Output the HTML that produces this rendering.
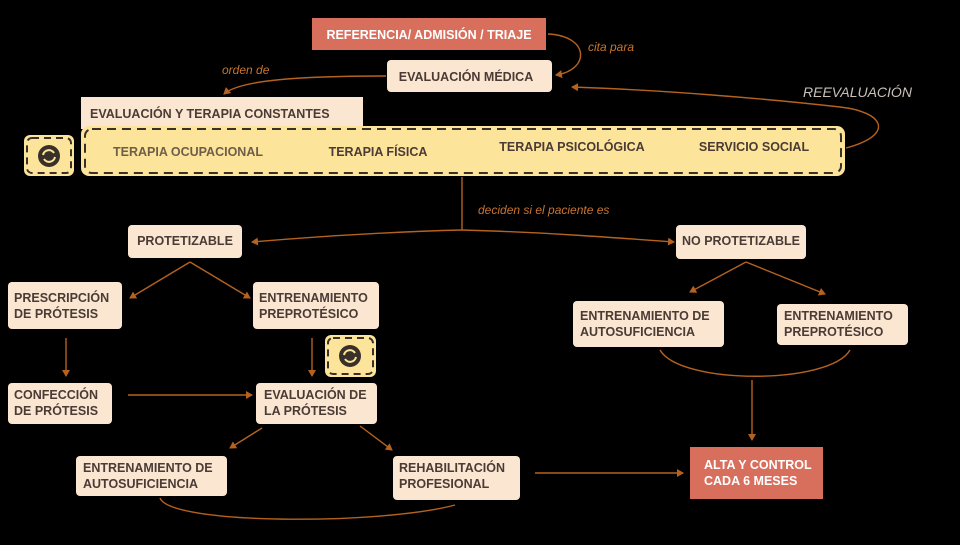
<!DOCTYPE html>
<html><head><meta charset="utf-8">
<style>
html,body{margin:0;padding:0;background:#000;}
body{width:960px;height:540px;overflow:hidden;font-family:"Liberation Sans",sans-serif;}
svg text{font-family:"Liberation Sans",sans-serif;}
.b{fill:#fbe6d2;}
.t{fill:#4a3b35;font-weight:bold;font-size:12.5px;}
.w{fill:#fff;font-weight:bold;font-size:12.5px;}
.ln{stroke:#b5621f;stroke-width:1.4;fill:none;}
.lbl{fill:#c8742e;font-style:italic;font-size:12px;}
</style></head>
<body>
<svg width="960" height="540" viewBox="0 0 960 540" xmlns="http://www.w3.org/2000/svg">
<defs>
<marker id="ar" markerWidth="8" markerHeight="8" refX="6" refY="4" orient="auto" markerUnits="userSpaceOnUse">
<path d="M0,0 L7,4 L0,8 z" fill="#b5621f"/></marker>
</defs>

<g>
<path class="ln" d="M548,34 C590,36 590,70 556,75" marker-end="url(#ar)"/>
<path class="ln" d="M386,76 C300,76 240,80 224,94" marker-end="url(#ar)"/>
<path class="ln" d="M846,148 C895,135 885,112 840,107 C760,98 660,90 572,87" marker-end="url(#ar)"/>
<path class="ln" d="M462,177 L462,230"/>
<path class="ln" d="M462,230 C380,232 300,238 252,242" marker-end="url(#ar)"/>
<path class="ln" d="M462,230 C540,232 620,238 674,242" marker-end="url(#ar)"/>
<path class="ln" d="M190,262 L130,298" marker-end="url(#ar)"/>
<path class="ln" d="M190,262 L250,298" marker-end="url(#ar)"/>
<path class="ln" d="M66,338 L66,376" marker-end="url(#ar)"/>
<path class="ln" d="M312,338 L312,376" marker-end="url(#ar)"/>
<path class="ln" d="M128,395 L252,395" marker-end="url(#ar)"/>
<path class="ln" d="M262,428 L230,448" marker-end="url(#ar)"/>
<path class="ln" d="M360,426 L392,450" marker-end="url(#ar)"/>
<path class="ln" d="M160,498 C170,525 380,525 455,505"/>
<path class="ln" d="M535,473 L683,473" marker-end="url(#ar)"/>
<path class="ln" d="M746,262 L690,292" marker-end="url(#ar)"/>
<path class="ln" d="M746,262 L825,294" marker-end="url(#ar)"/>
<path class="ln" d="M660,350 C680,385 830,385 850,350"/>
<path class="ln" d="M752,380 L752,440" marker-end="url(#ar)"/>
</g>

<text class="lbl" x="588" y="51">cita para</text>
<text class="lbl" x="222" y="74">orden de</text>
<text x="803" y="97" style="fill:#c9c0b8;font-style:italic;font-size:14px">REEVALUACIÓN</text>
<text class="lbl" x="478" y="214">deciden si el paciente es</text>

<g>
<rect x="312" y="18" width="234" height="32" fill="#d86f5d"/>
<text class="w" x="429" y="39" text-anchor="middle">REFERENCIA/ ADMISIÓN / TRIAJE</text></g>

<g>
<rect class="b" x="387" y="60" width="165" height="32" rx="4"/>
<text class="t" x="466" y="81" text-anchor="middle">EVALUACIÓN MÉDICA</text></g>

<g>
<rect class="b" x="81" y="97" width="282" height="32"/>
<text class="t" x="90" y="118">EVALUACIÓN Y TERAPIA CONSTANTES</text></g>

<g>
<rect x="81" y="126" width="764" height="50" rx="8" fill="#fce49a"/>
<rect x="85" y="129" width="756" height="44" rx="7" fill="none" stroke="#3a302a" stroke-width="2" stroke-dasharray="9,6"/>
<text class="t" x="188" y="156" text-anchor="middle" fill-opacity=".8">TERAPIA OCUPACIONAL</text>
<text class="t" x="378" y="156" text-anchor="middle">TERAPIA FÍSICA</text>
<text class="t" x="572" y="151" text-anchor="middle">TERAPIA PSICOLÓGICA</text>
<text class="t" x="754" y="151" text-anchor="middle">SERVICIO SOCIAL</text>
</g>

<g>
<rect x="24" y="135" width="50" height="41" rx="6" fill="#fce49a"/>
<rect x="27" y="138" width="44" height="35" rx="5" fill="none" stroke="#3a302a" stroke-width="2" stroke-dasharray="7,5"/>
<circle cx="49" cy="156" r="11" fill="#3a302a"/>
<path d="M43,155 A6,6 0 0 1 54,153 M55,157 A6,6 0 0 1 44,159" stroke="#fce49a" stroke-width="2" fill="none"/>
</g>
<g>
<rect x="325" y="335" width="51" height="42" rx="6" fill="#fce49a"/>
<rect x="328" y="338" width="45" height="36" rx="5" fill="none" stroke="#3a302a" stroke-width="2" stroke-dasharray="7,5"/>
<circle cx="350" cy="356" r="11" fill="#3a302a"/>
<path d="M344,355 A6,6 0 0 1 355,353 M356,357 A6,6 0 0 1 345,359" stroke="#fce49a" stroke-width="2" fill="none"/>
</g>

<g>
<rect class="b" x="128" y="225" width="114" height="33" rx="4"/>
<text class="t" x="185" y="245" text-anchor="middle">PROTETIZABLE</text></g>

<g>
<rect class="b" x="676" y="225" width="130" height="34" rx="4"/>
<text class="t" x="741" y="245" text-anchor="middle">NO PROTETIZABLE</text></g>

<g>
<rect class="b" x="8" y="282" width="114" height="47" rx="4"/>
<text class="t" x="14" y="302">PRESCRIPCIÓN</text><text class="t" x="14" y="318">DE PRÓTESIS</text></g>

<g>
<rect class="b" x="253" y="282" width="126" height="47" rx="4"/>
<text class="t" x="259" y="302">ENTRENAMIENTO</text><text class="t" x="259" y="318">PREPROTÉSICO</text></g>

<g>
<rect class="b" x="8" y="383" width="104" height="41" rx="4"/>
<text class="t" x="14" y="399">CONFECCIÓN</text><text class="t" x="14" y="415">DE PRÓTESIS</text></g>

<g>
<rect class="b" x="256" y="383" width="121" height="41" rx="4"/>
<text class="t" x="264" y="399">EVALUACIÓN DE</text><text class="t" x="264" y="415">LA PRÓTESIS</text></g>

<g>
<rect class="b" x="76" y="456" width="151" height="40" rx="4"/>
<text class="t" x="83" y="472">ENTRENAMIENTO DE</text><text class="t" x="83" y="488">AUTOSUFICIENCIA</text></g>

<g>
<rect class="b" x="393" y="456" width="127" height="44" rx="4"/>
<text class="t" x="399" y="472">REHABILITACIÓN</text><text class="t" x="399" y="488">PROFESIONAL</text></g>

<g>
<rect class="b" x="573" y="301" width="151" height="46" rx="4"/>
<text class="t" x="580" y="320">ENTRENAMIENTO DE</text><text class="t" x="580" y="336">AUTOSUFICIENCIA</text></g>

<g>
<rect class="b" x="777" y="304" width="131" height="41" rx="4"/>
<text class="t" x="784" y="320">ENTRENAMIENTO</text><text class="t" x="784" y="336">PREPROTÉSICO</text></g>

<g>
<rect x="690" y="447" width="133" height="52" fill="#d86f5d"/>
<text class="w" x="704" y="469">ALTA Y CONTROL</text><text class="w" x="704" y="485">CADA 6 MESES</text></g>
</svg>
</body></html>
